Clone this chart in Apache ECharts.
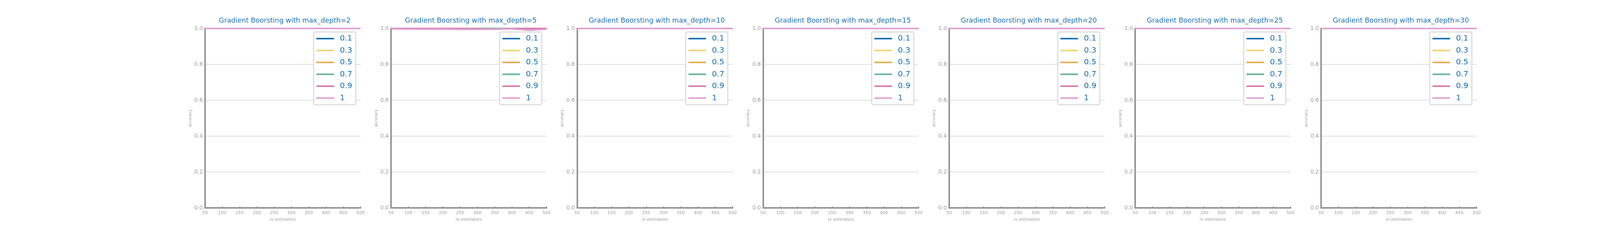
<!DOCTYPE html>
<html>
<head>
<meta charset="utf-8">
<script src="https://cdn.jsdelivr.net/npm/echarts@6/dist/echarts.min.js"></script>
<style>
  html, body { margin: 0; padding: 0; background: #fff; }
  #chart { width: 4200px; height: 600px; }
</style>
</head>
<body>
<div id="chart"></div>
<script>
// x values (number of estimators)
var nEstimators = [50, 100, 150, 200, 250, 300, 350, 400, 450, 500];
// learning rates (legend entries)
var learningRates = ['0.1', '0.3', '0.5', '0.7', '0.9', '1'];
var maxDepths = [2, 5, 10, 15, 20, 25, 30];

// accuracy per learning rate, one list per depth
var perfect = [1, 1, 1, 1, 1, 1, 1, 1, 1, 1];
var accDepth2 = [perfect, perfect, perfect, perfect, perfect, perfect];
var accDepth5 = [
    [1, 1, 1, 1, 1, 1, 1, 1, 1, 1],
    [1, 1, 1, 1, 1, 1, 1, 1, 1, 1],
    [1, 1, 1, 1, 1, 1, 1, 1, 1, 1],
    [1, 1, 1, 1, 1, 1, 1, 1, 1, 1],
    [1, 1, 1, 1, 1, 0.999, 0.996, 1, 1, 1],
    [0.998, 0.997, 0.996, 0.996, 0.995, 0.995, 0.996, 0.998, 0.990, 0.996]
];
var accDepth10 = [perfect, perfect, perfect, perfect, perfect, perfect];
var accDepth15 = [perfect, perfect, perfect, perfect, perfect, perfect];
var accDepth20 = [perfect, perfect, perfect, perfect, perfect, perfect];
var accDepth25 = [perfect, perfect, perfect, perfect, perfect, perfect];
var accDepth30 = [perfect, perfect, perfect, perfect, perfect, perfect];
var accByDepth = [accDepth2, accDepth5, accDepth10, accDepth15, accDepth20, accDepth25, accDepth30];

var colors = ['#1170b4', '#edd574', '#e9ad50', '#66b29a', '#d57bab', '#e0a0d2'];
var blue = '#1a6fb0';
var gray = '#949494';
var font = 'DejaVu Sans';

var grids = [], xAxes = [], yAxes = [], titles = [], legends = [], series = [];
var plotW = 398, step = 476.2, firstLeft = 525;

maxDepths.forEach(function (depth, i) {
    var left = firstLeft + i * step;
    grids.push({left: left, top: 73, width: plotW, height: 460});
    titles.push({
        text: 'Gradient Boorsting with max_depth=' + depth,
        left: left + plotW / 2, top: 39, textAlign: 'center',
        textStyle: {color: blue, fontSize: 17.5, fontWeight: 'normal', fontFamily: font}
    });
    xAxes.push({
        gridIndex: i, type: 'value', min: 50, max: 500, interval: 50,
        name: 'nr estimators', nameLocation: 'middle', nameGap: 25,
        nameTextStyle: {color: '#999', fontSize: 10, fontFamily: font},
        axisLine: {show: true, lineStyle: {color: gray, width: 4}},
        axisTick: {show: true, inside: true, length: 4, lineStyle: {color: gray, width: 2}},
        axisLabel: {color: '#999', fontSize: 11, fontFamily: font, margin: 8},
        splitLine: {show: false}
    });
    yAxes.push({
        gridIndex: i, type: 'value', min: 0, max: 1, interval: 0.2,
        name: 'accuracy', nameLocation: 'middle', nameGap: 33,
        nameTextStyle: {color: '#999', fontSize: 10, fontFamily: font},
        axisLine: {show: true, lineStyle: {color: gray, width: 4}},
        axisTick: {show: false},
        axisLabel: {color: '#999', fontSize: 13.5, fontFamily: font, margin: 6,
            formatter: function (v) { return v.toFixed(1); }},
        splitLine: {show: true, lineStyle: {color: '#d5d5d5', width: 1.5}}
    });
    legends.push({
        data: learningRates, orient: 'vertical',
        left: left + 278, top: 82,
        icon: 'rect', itemWidth: 45, itemHeight: 4, itemGap: 10.5,
        padding: [7, 9, 7, 7],
        borderColor: '#d0d0d0', borderWidth: 2, borderRadius: 4,
        backgroundColor: '#fff',
        textStyle: {color: blue, fontSize: 20, lineHeight: 20, fontFamily: font, padding: [0, 0, 0, 10]}
    });
    learningRates.forEach(function (lr, k) {
        series.push({
            name: lr, type: 'line', xAxisIndex: i, yAxisIndex: i,
            data: nEstimators.map(function (n, j) { return [n, accByDepth[i][k][j]]; }),
            showSymbol: false, symbol: 'none',
            lineStyle: {color: colors[k], width: 4},
            itemStyle: {color: colors[k]},
            animation: false
        });
    });
});

var chart = echarts.init(document.getElementById('chart'));
chart.setOption({
    backgroundColor: '#fff',
    animation: false,
    title: titles,
    legend: legends,
    grid: grids,
    xAxis: xAxes,
    yAxis: yAxes,
    series: series
});
</script>
</body>
</html>
